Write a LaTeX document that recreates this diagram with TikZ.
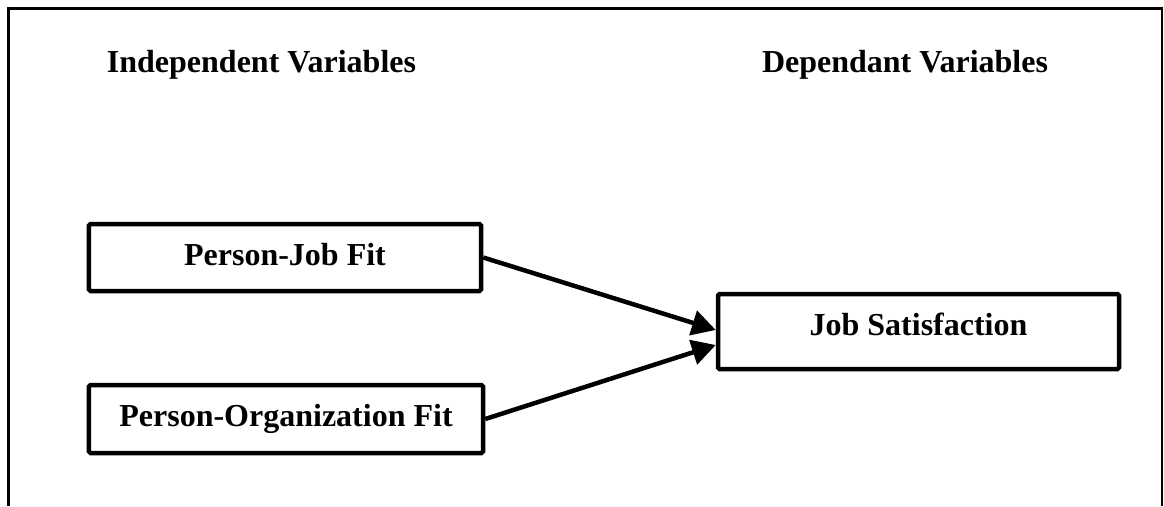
\documentclass[tikz,border=0pt]{standalone}
\usepackage{fontspec}
\setmainfont{Liberation Serif}
\usetikzlibrary{arrows.meta, positioning, calc}

\begin{document}
\begin{tikzpicture}[x=0.4pt, y=-0.4pt,
    varbox/.style={draw, line width=1.8pt, rounded corners=0.6pt, inner sep=0pt, text height=9pt, text depth=3pt, font=\fontsize{12.8}{15}\selectfont\bfseries},
    header/.style={font=\fontsize{12.8}{15}\selectfont\bfseries, inner sep=0pt, anchor=base},
    link/.style={line width=1.8pt, -{Triangle[length=9.5pt, width=10pt]}}]
    \useasboundingbox (0,0) rectangle (1164,506);
    \draw[line width=1pt] (8.5,506) -- (8.5,8.5) -- (1162,8.5) -- (1162,506);

    \node[header] (indep) at (261.5,73) {Independent Variables};
    \node[header] (dep) at (905,73) {Dependant Variables};

    \node[varbox, minimum width=156.8pt, minimum height=26.8pt] (pjfit) at (285,257.5) {Person-Job Fit};
    \node[varbox, minimum width=157.6pt, minimum height=27.2pt] (pofit) at (286,419) {Person-Organization Fit};
    \node[varbox, text depth=6pt, minimum width=160.4pt, minimum height=30pt] (jobsat) at (918.5,331.5) {Job Satisfaction};

    \draw[link] (pjfit.east) -- ([yshift=0.6pt]jobsat.west);
    \draw[link] (pofit.east) -- ([yshift=-5.4pt]jobsat.west);
\end{tikzpicture}
\end{document}
